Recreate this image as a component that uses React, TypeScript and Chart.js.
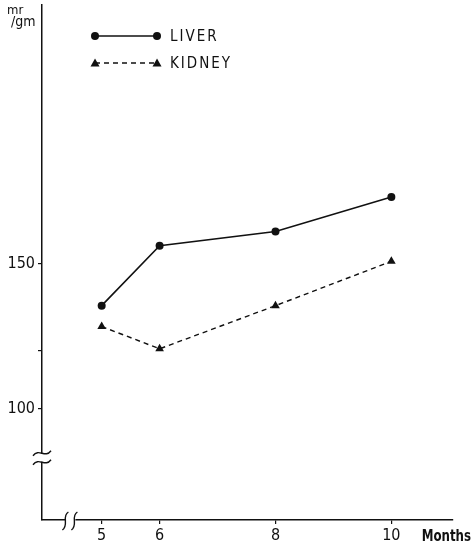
import React, { useEffect, useRef } from "react";
import { Chart, registerables } from "chart.js";

Chart.register(...registerables);

// ---- data ----
const months = [5, 6, 8, 10];
const liver = [135.5, 156.2, 161.1, 173.0];
const kidney = [128.3, 120.6, 135.5, 150.8];
const yTickValues = [100, 120, 150];
const yTickLabelled = [100, 150];
const seriesNames = ["LIVER", "KIDNEY"];
const xTitle = "Months";
const yTitleTop = "mr";
const yTitleBottom = "/gm";
const yBreakValue = 83;
const xBreakValue = 4.46;

const FONT = '"Liberation Sans Narrow", "DejaVu Sans Condensed", "Arial Narrow", sans-serif';
const INK = "#111";

const decorations = {
  id: "decorations",
  afterDraw(chart: any) {
    const ctx = chart.ctx as CanvasRenderingContext2D;
    const xs = chart.scales.x;
    const ys = chart.scales.y;
    const area = chart.chartArea;
    ctx.save();

    // y-axis break
    const yb = ys.getPixelForValue(yBreakValue);
    const ax = area.left;
    ctx.fillStyle = "#fff";
    ctx.fillRect(ax - 4, yb - 4, 8, 8);
    ctx.strokeStyle = INK;
    ctx.lineWidth = 1.4;
    for (const dy of [-5, 4]) {
      ctx.beginPath();
      ctx.moveTo(ax - 9, yb + dy + 3);
      ctx.bezierCurveTo(ax - 3, yb + dy - 5, ax + 3, yb + dy + 6, ax + 9, yb + dy - 2);
      ctx.stroke();
    }

    // x-axis break
    const xb = xs.getPixelForValue(xBreakValue);
    const ay = area.bottom;
    ctx.fillStyle = "#fff";
    ctx.fillRect(xb - 5, ay - 3, 10, 6);
    ctx.strokeStyle = INK;
    for (const dx of [-5, 4]) {
      ctx.beginPath();
      ctx.moveTo(xb + dx - 3, ay + 10);
      ctx.bezierCurveTo(xb + dx + 4, ay + 5, xb + dx - 4, ay - 4, xb + dx + 3, ay - 8);
      ctx.stroke();
    }

    // legend
    const lx0 = 95;
    const lx1 = 157;
    const rows = [
      { y: 36, name: seriesNames[0], dash: [] as number[], tri: false },
      { y: 63, name: seriesNames[1], dash: [5, 4], tri: true },
    ];
    ctx.fillStyle = INK;
    ctx.strokeStyle = INK;
    for (const r of rows) {
      ctx.lineWidth = 1.4;
      ctx.setLineDash(r.dash);
      ctx.beginPath();
      ctx.moveTo(lx0, r.y);
      ctx.lineTo(lx1, r.y);
      ctx.stroke();
      ctx.setLineDash([]);
      for (const px of [lx0, lx1]) {
        ctx.beginPath();
        if (r.tri) {
          ctx.moveTo(px, r.y - 4.5);
          ctx.lineTo(px + 4.5, r.y + 3.5);
          ctx.lineTo(px - 4.5, r.y + 3.5);
          ctx.closePath();
        } else {
          ctx.arc(px, r.y, 4, 0, Math.PI * 2);
        }
        ctx.fill();
      }
      ctx.font = `15px ${FONT}`;
      (ctx as any).letterSpacing = "2px";
      ctx.textAlign = "left";
      ctx.textBaseline = "middle";
      ctx.fillText(r.name, 170, r.y + 1);
      (ctx as any).letterSpacing = "0px";
    }

    // axis titles
    ctx.fillStyle = INK;
    ctx.textBaseline = "alphabetic";
    ctx.textAlign = "left";
    ctx.font = `13px ${FONT}`;
    ctx.fillText(yTitleTop, 7, 14);
    ctx.font = `14px ${FONT}`;
    ctx.fillText(yTitleBottom, 11, 26);

    ctx.save();
    ctx.translate(471, 541);
    ctx.scale(0.82, 1);
    ctx.textAlign = "right";
    ctx.font = `bold 16px ${FONT}`;
    ctx.fillText(xTitle, 0, 0);
    ctx.restore();

    ctx.restore();
  },
};

export default function App() {
  const ref = useRef<HTMLCanvasElement | null>(null);

  useEffect(() => {
    if (!ref.current) return;
    const chart = new Chart(ref.current, {
      type: "line",
      data: {
        datasets: [
          {
            label: seriesNames[0],
            data: months.map((m, i) => ({ x: m, y: liver[i] })),
            borderColor: INK,
            backgroundColor: INK,
            borderWidth: 1.6,
            pointStyle: "circle",
            pointRadius: 4,
            pointBackgroundColor: INK,
            pointBorderWidth: 0,
            tension: 0,
          },
          {
            label: seriesNames[1],
            data: months.map((m, i) => ({ x: m, y: kidney[i] })),
            borderColor: INK,
            backgroundColor: INK,
            borderWidth: 1.4,
            borderDash: [5, 4],
            pointStyle: "triangle",
            pointRadius: 5,
            pointBackgroundColor: INK,
            pointBorderWidth: 0,
            tension: 0,
          },
        ],
      },
      options: {
        responsive: false,
        animation: false,
        devicePixelRatio: 1,
        layout: { padding: { top: 5, right: 22, left: 0, bottom: 0 } },
        plugins: {
          legend: { display: false },
          tooltip: { enabled: false },
        },
        scales: {
          x: {
            type: "linear",
            min: 3.97,
            max: 11.064,
            afterFit: (s: any) => {
              s.height = 29;
              s.paddingLeft = 0;
              s.paddingRight = 0;
            },
            afterBuildTicks: (s: any) => {
              s.ticks = months.map((v) => ({ value: v }));
            },
            grid: {
              drawOnChartArea: false,
              drawTicks: true,
              tickLength: 4,
              color: INK,
              lineWidth: 1.2,
            },
            border: { color: INK, width: 1.5 },
            ticks: {
              font: { family: FONT, size: 16 },
              color: INK,
              padding: 2,
              maxRotation: 0,
              autoSkip: false,
              callback: (v: any) => String(v),
            },
          },
          y: {
            type: "linear",
            min: 61.5,
            max: 239.3,
            afterFit: (s: any) => {
              s.width = 42;
              s.paddingTop = 0;
              s.paddingBottom = 0;
            },
            afterBuildTicks: (s: any) => {
              s.ticks = yTickValues.map((v) => ({ value: v }));
            },
            grid: {
              drawOnChartArea: false,
              drawTicks: true,
              tickLength: 4,
              color: INK,
              lineWidth: 1.2,
            },
            border: { color: INK, width: 1.5 },
            ticks: {
              font: { family: FONT, size: 16 },
              color: INK,
              padding: 3,
              autoSkip: false,
              callback: (v: any) => (yTickLabelled.includes(Number(v)) ? String(v) : ""),
            },
          },
        },
      },
      plugins: [decorations],
    });
    return () => chart.destroy();
  }, []);

  return (
    <div style={{ position: "absolute", left: 0, top: 0, width: 475, height: 549, background: "#fff" }}>
      <canvas ref={ref} width={475} height={549} style={{ width: 475, height: 549, display: "block" }} />
    </div>
  );
}
